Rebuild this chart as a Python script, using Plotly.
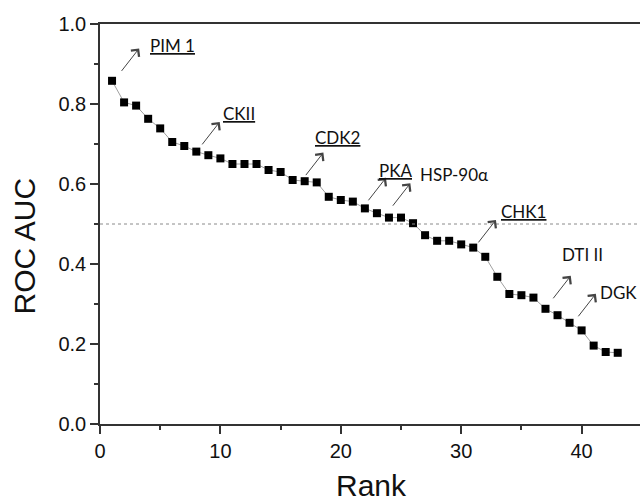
import plotly.graph_objects as go

# ---- data ----
rank = list(range(1, 44))
auc = [0.858, 0.804, 0.796, 0.763, 0.739, 0.705, 0.695, 0.681, 0.672, 0.664,
       0.650, 0.650, 0.650, 0.635, 0.630, 0.610, 0.607, 0.604, 0.568, 0.560,
       0.556, 0.539, 0.527, 0.516, 0.516, 0.502, 0.472, 0.458, 0.458, 0.449,
       0.441, 0.418, 0.368, 0.325, 0.322, 0.316, 0.288, 0.272, 0.253, 0.234,
       0.196, 0.180, 0.178]
labels = ["PIM 1", "CKII", "CDK2", "PKA", "HSP-90α", "CHK1", "DTI II", "DGK"]
label_rank = [1, 8, 17, 22, 24, 31, 37, 39]
underlined = [True, True, True, True, False, True, False, False]
threshold = 0.5
x_ticks = [0, 10, 20, 30, 40]
y_ticks = [0.0, 0.2, 0.4, 0.6, 0.8, 1.0]

# ---- style (pixel offsets relative to the labelled point) ----
tail_off = [(8.4, -8.4), (4.7, -5.7), (0, -4.6), (2.4, -6.6), (2.7, -10.4),
            (4.0, -3.7), (6.6, -9.0), (7.6, -5.0)]
arrow_vec = (18.7, -24.0)
label_off = [(36, -35.2), (24.7, -38), (8.3, -44), (12.4, -37.6), (29.3, -42.7),
             (25.7, -36), (15, -54), (28.6, -30)]

fig = go.Figure()
fig.add_trace(go.Scatter(
    x=rank, y=auc, mode="lines+markers",
    line=dict(color="#a0a0a0", width=1),
    marker=dict(symbol="square", size=8, color="black"),
    showlegend=False,
))

fig.add_shape(type="line", xref="paper", yref="y", x0=0, x1=1,
              y0=threshold, y1=threshold,
              line=dict(color="#8a8a8a", width=1, dash="dot"))

annotations = []
for lab, r, ul, t, lo in zip(labels, label_rank, underlined, tail_off, label_off):
    v = auc[r - 1]
    hx = t[0] + arrow_vec[0]
    hy = t[1] + arrow_vec[1]
    annotations.append(dict(
        x=r, y=v, xref="x", yref="y", text="", showarrow=True,
        ax=-arrow_vec[0], ay=-arrow_vec[1], axref="pixel", ayref="pixel",
        xshift=hx, yshift=-hy,
        arrowhead=4, arrowsize=2, arrowwidth=1, arrowcolor="#444444",
        standoff=0, startstandoff=0,
    ))
    annotations.append(dict(
        x=r, y=v, xref="x", yref="y",
        text=f"<u>{lab}</u>" if ul else lab, showarrow=False,
        xanchor="left", yanchor="middle",
        xshift=lo[0], yshift=-lo[1],
        font=dict(family="Lato", size=17, color="#111111"),
    ))

annotations.append(dict(
    x=(371.5 - 100) / 540, y=(424 - 485.5) / 400, xref="paper", yref="paper",
    text="Rank", showarrow=False, xanchor="center", yanchor="middle",
    font=dict(family="Liberation Sans", size=30, color="#111111"),
))
annotations.append(dict(
    x=(24.5 - 100) / 540, y=(424 - 246) / 400, xref="paper", yref="paper",
    text="ROC AUC", showarrow=False, xanchor="center", yanchor="middle",
    textangle=-90,
    font=dict(family="Liberation Sans", size=30, color="#111111"),
))

axis_common = dict(
    showgrid=False, zeroline=False, showline=True, linewidth=1.5,
    linecolor="#333333", ticks="outside", ticklen=8, tickwidth=1.5,
    tickcolor="#333333",
    tickfont=dict(family="Liberation Sans", size=20, color="#111111"),
)

fig.update_layout(
    width=640, height=503,
    margin=dict(l=100, r=0, t=24, b=79),
    paper_bgcolor="white", plot_bgcolor="white",
    xaxis=dict(range=[0, 44.85], tickvals=x_ticks, mirror=True,
               minor=dict(dtick=5, tick0=0, ticks="outside", ticklen=4,
                          tickwidth=1.5, tickcolor="#333333"),
               **axis_common),
    yaxis=dict(range=[0, 1], tickvals=y_ticks, tickformat=".1f",
               minor=dict(dtick=0.1, tick0=0, ticks="outside", ticklen=4,
                          tickwidth=1.5, tickcolor="#333333"),
               **axis_common),
    annotations=annotations,
)

fig.write_html("out.html", config={"displayModeBar": False},
               post_script="document.body.style.margin='0px';document.body.style.overflow='hidden';")
